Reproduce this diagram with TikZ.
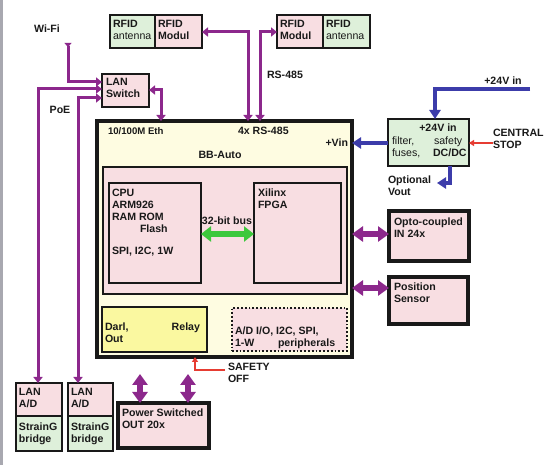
\documentclass[tikz,border=0pt]{standalone}
\usepackage{fontspec}
\setmainfont{Liberation Sans}
\usetikzlibrary{arrows.meta,calc}
\definecolor{pur}{RGB}{140,40,140}
\definecolor{blu}{RGB}{60,60,170}
\definecolor{grn}{RGB}{60,200,60}
\definecolor{rd}{RGB}{230,60,50}
\definecolor{pnk}{RGB}{248,222,226}
\definecolor{lgr}{RGB}{222,240,218}
\definecolor{crm}{RGB}{254,252,225}
\definecolor{ylw}{RGB}{250,248,160}
\definecolor{bord}{RGB}{25,25,25}
\definecolor{gstrip}{RGB}{168,168,176}
\tikzset{
  bx/.style={draw=bord, line width=1.8pt, anchor=north west, inner sep=0pt, outer sep=0pt},
  thk/.style={bx, line width=3.6pt},
  txt/.style={inner sep=0pt, outer sep=0pt, align=left, font=\fontsize{10.6}{12}\selectfont\bfseries, text=bord},
  rtxt/.style={txt, font=\fontsize{10.6}{12}\selectfont},
  pa/.style={draw=pur, line width=3pt, {Triangle[length=6pt,width=9pt]}-{Triangle[length=6pt,width=9pt]}},
  bigarr/.style={draw=pur, line width=6pt, {Triangle[length=11pt,width=15pt]}-{Triangle[length=11pt,width=15pt]}},
  garr/.style={draw=grn, line width=5.5pt, {Triangle[length=10pt,width=15pt]}-{Triangle[length=10pt,width=15pt]}},
  barr/.style={draw=blu, line width=4.5pt, -{Triangle[length=9pt,width=11pt]}},
  rarr/.style={draw=rd, line width=1.8pt, -{Triangle[length=5pt,width=6pt]}},
}
\newcommand\tl[4][txt]{\node[#1,anchor=north west] (#2) at #3 {#4};}
\begin{document}
\begin{tikzpicture}[x=1pt,y=-1pt]
\useasboundingbox[fill=white] (0,0) rectangle (555,465);
\fill[gstrip] (0,0) rectangle (3,465);
% boxes
\node[bx, fill=lgr, minimum width=45pt, minimum height=33pt] (rfidA1) at (110,15) {};
\node[bx, fill=pnk, minimum width=47pt, minimum height=33pt] (rfidM1) at (155,15) {};
\node[bx, fill=pnk, minimum width=46pt, minimum height=33pt] (rfidM2) at (277,15) {};
\node[bx, fill=lgr, minimum width=47pt, minimum height=33pt] (rfidA2) at (323,15) {};
\node[bx, fill=pnk, minimum width=47pt, minimum height=33pt] (lanSw) at (102,74) {};
\node[thk, fill=crm, minimum width=255pt, minimum height=236pt] (bb) at (97,121) {};
\node[bx, fill=pnk, minimum width=244pt, minimum height=127pt] (inner) at (103,167) {};
\node[bx, fill=pnk, minimum width=92pt, minimum height=100pt] (cpu) at (109,183) {};
\node[bx, fill=pnk, minimum width=87pt, minimum height=100pt] (fpga) at (254,183) {};
\node[bx, fill=ylw, minimum width=105pt, minimum height=45pt] (darl) at (102,307) {};
\node[bx, fill=pnk, dotted, line width=1.6pt, minimum width=115pt, minimum height=43pt] (periph) at (232,308) {};
\node[bx, fill=lgr, minimum width=81pt, minimum height=47pt] (pwrIn) at (388,119) {};
\node[thk, fill=pnk, minimum width=80pt, minimum height=50pt] (opto) at (389,211) {};
\node[thk, fill=pnk, minimum width=79pt, minimum height=47pt] (pos) at (389,277) {};
\node[thk, fill=pnk, minimum width=91pt, minimum height=45pt] (pwrOut) at (118,403) {};
\node[bx, fill=pnk, minimum width=46pt, minimum height=33pt] (lan1) at (16,383) {};
\node[bx, fill=lgr, minimum width=46pt, minimum height=35pt] (sg1) at (16,416) {};
\node[bx, fill=pnk, minimum width=45pt, minimum height=33pt] (lan2) at (68,383) {};
\node[bx, fill=lgr, minimum width=45pt, minimum height=35pt] (sg2) at (68,416) {};
% texts in boxes
\tl{t1}{(113,20.2)}{RFID\\\mdseries antenna}
\tl{t2}{(158,20.2)}{RFID\\Modul}
\tl{t3}{(280,20.2)}{RFID\\Modul}
\tl{t4}{(326,20.2)}{RFID\\\mdseries antenna}
\tl{t5}{(106,78.2)}{LAN\\Switch}
\tl{t6}{(112,189.2)}{CPU\\ARM926\\RAM ROM\\\hspace*{28pt}Flash}
\tl{t7}{(112,247.2)}{SPI, I2C, 1W}
\tl{t8}{(258,189.2)}{Xilinx\\FPGA}
\tl{t9}{(105,323.2)}{Darl,\\Out}
\node[txt, anchor=north east] (t10) at (200,323.2) {Relay};
\tl{t11}{(235,327.2)}{A/D I/O, I2C, SPI,\\1-W}
\tl{t12}{(278,339.2)}{peripherals}
\node[txt, anchor=north] (t13) at (438,124.2) {+24V in};
\tl[rtxt]{t14}{(392,137.2)}{filter,\\fuses,}
\tl[rtxt]{t15}{(434,137.2)}{safety}
\tl{t16}{(433,149.2)}{DC/DC}
\tl{t17}{(394,218.2)}{Opto-coupled\\IN 24x}
\tl{t18}{(394,283.2)}{Position\\Sensor}
\tl{t19}{(122,409.2)}{Power Switched\\OUT 20x}
\tl{t20}{(19,388.2)}{LAN\\A/D}
\tl{t21}{(19,423.2)}{StrainG\\bridge}
\tl{t22}{(71,388.2)}{LAN\\A/D}
\tl{t23}{(71,423.2)}{StrainG\\bridge}
% outside labels
\node[txt, anchor=north] (l1) at (47,25.2) {Wi-Fi};
\node[txt, anchor=north] (l2) at (60,106.2) {PoE};
\tl{l3}{(267,71.2)}{RS-485}
\node[txt, font=\fontsize{9.6}{12}\selectfont\bfseries, anchor=north west] (l4) at (108,127.5) {10/100M Eth};
\tl{l5}{(238,127.2)}{4x RS-485}
\node[txt, anchor=north] (l6) at (220,151.2) {BB-Auto};
\node[txt, anchor=north east] (l7) at (348,139.2) {+Vin};
\node[txt, anchor=north] (l8) at (503,77.2) {+24V in};
\tl{l9}{(493,129.2)}{CENTRAL\\STOP}
\tl{l10}{(388,176.2)}{Optional\\Vout}
\node[txt, anchor=north] (l11) at (227,217.2) {32-bit bus};
\tl{l12}{(228,363.2)}{SAFETY\\OFF}
% coordinates
\coordinate (wifi) at (68,43);
\coordinate (v24) at (530,89);
\coordinate (vout) at (437,183);
\coordinate (cs) at (493,143);
\coordinate (so) at (225,370);
\coordinate (po1) at (140,374);
\coordinate (po2) at (188,374);
% purple connectors
\draw[draw=pur, line width=3pt, {Triangle[reversed,length=4pt,width=7pt]}-{Triangle[length=6pt,width=9pt]}] (wifi) |- ($(lanSw.north west)+(0,8)$);
\draw[pa] ($(lan1.north west)+(22,0)$) |- ($(lanSw.north west)+(0,15)$);
\draw[pa] ($(lan2.north west)+(10,0)$) |- ($(lanSw.north west)+(0,24)$);
\draw[pa] ($(lanSw.north east)+(0,16)$) -| ($(bb.north west)+(64,0)$);
\draw[pa] ($(rfidM1.north east)+(0,17)$) -| ($(bb.north west)+(151,0)$);
\draw[pa] ($(bb.north west)+(163,0)$) |- ($(rfidM2.north west)+(0,17)$);
\draw[bigarr] ($(bb.north east)+(0,113)$) -- ($(opto.north west)+(0,23)$);
\draw[bigarr] ($(bb.north east)+(0,167)$) -- ($(pos.north west)+(0,11)$);
\draw[bigarr] (po1) -- (po1 |- pwrOut.north);
\draw[bigarr] (po2) -- (po2 |- pwrOut.north);
% green bus
\draw[garr] ($(cpu.north east)+(0,51)$) -- ($(fpga.north west)+(0,51)$);
% blue power
\draw[barr] (v24) -| ($(pwrIn.north west)+(47,0)$);
\draw[barr] ($(pwrIn.north west)+(0,24)$) -- ($(bb.north east)+(0,22)$);
\draw[barr] ($(pwrIn.south west)+(62,0)$) |- (vout);
% red
\draw[rarr] (cs) -- (cs -| pwrIn.east);
\draw[rarr] (so) -| ($(bb.south west)+(98,0)$);
\end{tikzpicture}
\end{document}
